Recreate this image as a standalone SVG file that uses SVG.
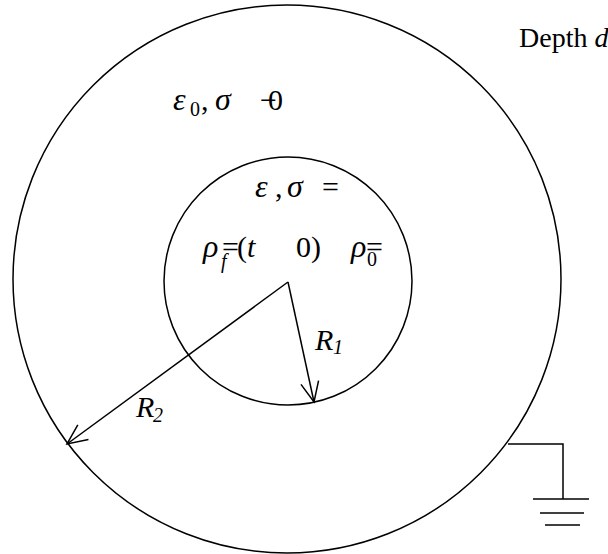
<svg xmlns="http://www.w3.org/2000/svg" width="608" height="554" viewBox="0 0 608 554">
<style>
.ln{fill:none;stroke:#000;stroke-width:1.5}
text{font-family:'Liberation Serif','Times New Roman',serif;font-size:30px;fill:#000}
.dp{font-size:28px}
.i{font-style:italic}
.g{font-style:italic;font-size:32px}
.s{font-size:20px}
</style>
<defs>
<marker id="head" markerUnits="userSpaceOnUse" viewBox="-22 -12 24 24" refX="0" refY="0" markerWidth="24" markerHeight="24" orient="auto" overflow="visible">
<path d="M-20,-9 L0,0 L-20,9" fill="none" stroke="#000" stroke-width="1.5"/>
</marker>
</defs>
<rect width="608" height="554" fill="#fff"/>
<g id="outer-region">
<circle class="ln" cx="287" cy="279" r="274"/>
<text><tspan class="g" x="173" y="110">ε</tspan><tspan class="s" x="190" y="116">0</tspan><tspan x="201" y="110">,</tspan><tspan class="g" x="215" y="110">σ</tspan><tspan x="260" y="110">−</tspan><tspan x="268" y="110">0</tspan></text>
</g>
<g id="inner-region">
<circle class="ln" cx="288" cy="281" r="124"/>
<text><tspan class="g" x="255" y="197">ε</tspan><tspan x="275" y="197">,</tspan><tspan class="g" x="287" y="197">σ</tspan><tspan x="322" y="197">=</tspan></text>
<text><tspan class="g" x="203" y="257">ρ</tspan><tspan class="i s" x="221" y="268">f</tspan><tspan x="222" y="257">=</tspan><tspan x="237" y="257">(</tspan><tspan class="i" x="247" y="257">t</tspan><tspan x="296" y="257">0)</tspan><tspan class="g" x="351" y="257">ρ</tspan><tspan class="s" x="367" y="266">0</tspan><tspan x="366" y="257">=</tspan></text>
</g>
<g id="depth-label">
<text class="dp" x="519" y="47">Depth <tspan class="i">d</tspan></text>
</g>
<g id="connectors">
<line class="ln" x1="288" y1="282" x2="314" y2="402" marker-end="url(#head)"/>
<line class="ln" x1="288" y1="282" x2="67" y2="444" marker-end="url(#head)"/>
<polyline class="ln" points="508,444 563,444 563,499"/>
<text><tspan class="i" x="315" y="350">R</tspan><tspan class="i s" x="333" y="354">1</tspan></text>
<text><tspan class="i" x="136" y="417">R</tspan><tspan class="i s" x="153" y="422">2</tspan></text>
</g>
<g id="ground">
<line class="ln" x1="533" y1="499" x2="589" y2="499"/>
<line class="ln" x1="540" y1="513" x2="584" y2="513"/>
<line class="ln" x1="545" y1="525" x2="580" y2="525"/>
</g>
</svg>
